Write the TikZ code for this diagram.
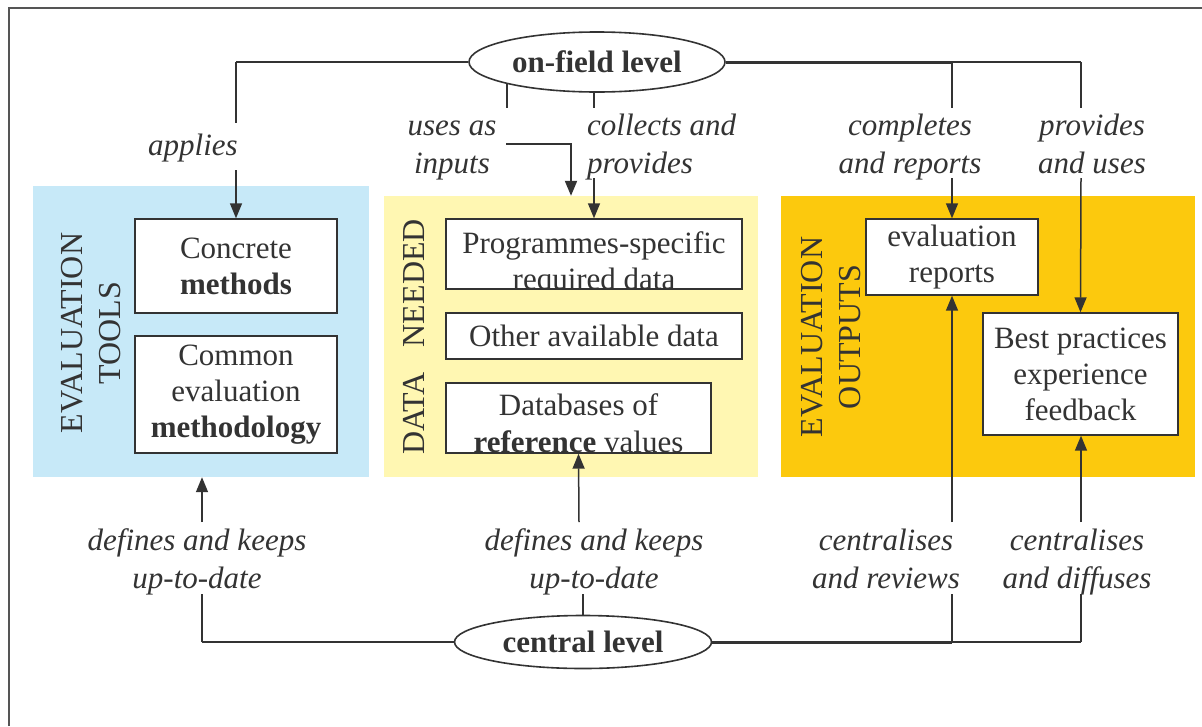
\documentclass[tikz,border=0pt]{standalone}
\usepackage{fontspec}
\setmainfont{Liberation Serif}
\usetikzlibrary{arrows.meta,shapes.geometric}
\definecolor{bluep}{HTML}{C7E9F8}
\definecolor{yellp}{HTML}{FFF7B2}
\definecolor{goldp}{HTML}{FCC90D}
\definecolor{ink}{HTML}{333333}
\definecolor{framec}{HTML}{555555}
\pgfdeclarelayer{panels}
\pgfdeclarelayer{links}
\pgfsetlayers{panels,links,main}
\tikzset{
  panel/.style={inner sep=0pt, draw=none},
  box/.style={draw=ink, line width=1.4pt, fill=white, inner sep=0pt, align=center, text=ink,
    font=\fontsize{31}{36}\selectfont},
  cliptext/.style={text=ink, inner sep=0pt, anchor=base, font=\fontsize{31}{36}\selectfont},
  lvl/.style={ellipse, draw=ink, line width=1.6pt, fill=white, inner sep=0pt, text=ink,
    font=\fontsize{31}{36}\selectfont\bfseries},
  lab/.style={align=center, text=ink, inner sep=0pt, anchor=base, font=\fontsize{31}{38}\selectfont\itshape},
  side/.style={align=center, text=ink, rotate=90, inner sep=0pt, font=\fontsize{32}{38}\selectfont},
  link/.style={draw=ink, line width=1.5pt},
  heavy/.style={draw=ink, line width=3pt},
  arr/.style={link, -{Triangle[length=15pt, width=12pt]}},
}
\begin{document}
\begin{tikzpicture}[x=1pt, y=-1pt]
\useasboundingbox (0,0) rectangle (1202,726);
\begin{pgfonlayer}{panels}
\fill[white] (0,0) rectangle (1202,726);
\node[panel, fill=bluep, minimum width=336pt, minimum height=291pt] (bluepanel) at (201,331.5) {};
\node[panel, fill=yellp, minimum width=374pt, minimum height=281pt] (datapanel) at (571,336.5) {};
\node[panel, fill=goldp, minimum width=414pt, minimum height=281pt] (goldpanel) at (988,336.5) {};
\end{pgfonlayer}
\draw[framec, line width=2pt] (9,726) -- (9,8) -- (1202,8);

% panel titles
\node[side] (tools) at (91,333) {EVALUATION\\TOOLS};
\node[side] (needed) at (414,337) {DATA\hspace{25pt}NEEDED};
\node[side] (outputs) at (831,337) {EVALUATION\\OUTPUTS};

% level ellipses
\node[lvl, minimum width=256pt, minimum height=60pt] (onfield) at (597,62) {on-field level};
\node[lvl, minimum width=257pt, minimum height=53pt] (central) at (583,642) {central level};

% boxes
\node[box, minimum width=202pt, minimum height=94pt] (concrete) at (236,266) {Concrete\\\textbf{methods}};
\node[box, minimum width=202pt, minimum height=117pt] (common) at (236,394.5) {Common\\evaluation\\\textbf{methodology}};
\node[box, minimum width=296pt, minimum height=70pt,
  path picture={
    \node[cliptext] at ([yshift=-34pt]path picture bounding box.north) {Programmes-specific};
    \node[cliptext] at ([yshift=-70pt]path picture bounding box.north) {required data};}]
  (prog) at (594,254) {};
\node[box, minimum width=296pt, minimum height=46pt] (other) at (594,336) {Other available data};
\node[box, minimum width=265pt, minimum height=70pt,
  path picture={
    \node[cliptext] at ([yshift=-32pt]path picture bounding box.north) {Databases of};
    \node[cliptext] at ([yshift=-69pt]path picture bounding box.north) {\textbf{reference} values};}]
  (db) at (578.5,418) {};
\node[box, minimum width=172pt, minimum height=76pt] (evalrep) at (952,257) {evaluation\\reports};
\node[box, minimum width=195pt, minimum height=122pt] (best) at (1080.5,374) {Best practices\\experience\\feedback};

% labels (anchored at last baseline)
\node[lab] (applies) at (193,155) {applies};
\node[lab] (uses) at (452,173) {uses as\\inputs};
\node[lab, anchor=base west, align=left] (collects) at (587,173) {collects and\\provides};
\node[lab] (completes) at (910,173) {completes\\and reports};
\node[lab] (provuses) at (1092,173) {provides\\and uses};
\node[lab] (defines1) at (197,588) {defines and keeps\\up-to-date};
\node[lab] (defines2) at (594,588) {defines and keeps\\up-to-date};
\node[lab] (centrev) at (886,588) {centralises\\and reviews};
\node[lab] (centdif) at (1077,588) {centralises\\and diffuses};

% junction coordinates
\coordinate (tA) at (236,62);   \coordinate (tA1) at (236,123); \coordinate (tA2) at (236,170);
\coordinate (tU) at (507,62);   \coordinate (tU1) at (507,108); \coordinate (tU2) at (506,144);
\coordinate (tC) at (594,62);   \coordinate (tC1) at (594,108); \coordinate (tC2) at (594,178);
\coordinate (tR) at (952,62);   \coordinate (tR1) at (952,108); \coordinate (tR2) at (952,178);
\coordinate (tB) at (1081,62);  \coordinate (tB1) at (1081,108); \coordinate (tB2) at (1081,178);
\coordinate (bA) at (202,642);  \coordinate (bA1) at (202,594); \coordinate (bA2) at (202,522);
\coordinate (bD1) at (583,594); \coordinate (bD2) at (579,522);
\coordinate (bR) at (952,642);  \coordinate (bR1) at (952,594); \coordinate (bR2) at (952,522);
\coordinate (bB) at (1081,642); \coordinate (bB1) at (1081,594); \coordinate (bB2) at (1081,522);

\begin{pgfonlayer}{links}
% top connectors
\draw[link, line width=2.2pt] (onfield.west) -- (tA);
\draw[link] (tA) -- (tA1);
\draw[arr] (tA2) -- (concrete.north);
\draw[link] (tU) -- (tU1);
\draw[arr, line width=2pt] (tU2) -| (datapanel.north);
\draw[link] (tC) -- (tC1);
\draw[arr] (tC2) -- (prog.north);
\draw[heavy] (onfield.east) -- (tR);
\draw[link, line width=2.2pt] (tR) -- (tB);
\draw[link] (tR) -- (tR1);
\draw[arr] (tR2) -- (evalrep.north);
\draw[link] (tB) -- (tB1);
\draw[arr] (tB2) -- (best.north);
% bottom connectors
\draw[link, line width=2.2pt] (central.west) -- (bA);
\draw[link] (bA) -- (bA1);
\draw[arr] (bA2) -- (bluepanel.south -| bA2);
\draw[link] (central.north) -- (bD1);
\draw[arr] (bD2) -- (db.south);
\draw[heavy] (central.east) -- (bR);
\draw[link, line width=2.2pt] (bR) -- (bB);
\draw[link] (bR) -- (bR1);
\draw[arr] (bR2) -- (evalrep.south);
\draw[link] (bB) -- (bB1);
\draw[arr] (bB2) -- (best.south -| bB2);
\end{pgfonlayer}
\end{tikzpicture}
\end{document}
